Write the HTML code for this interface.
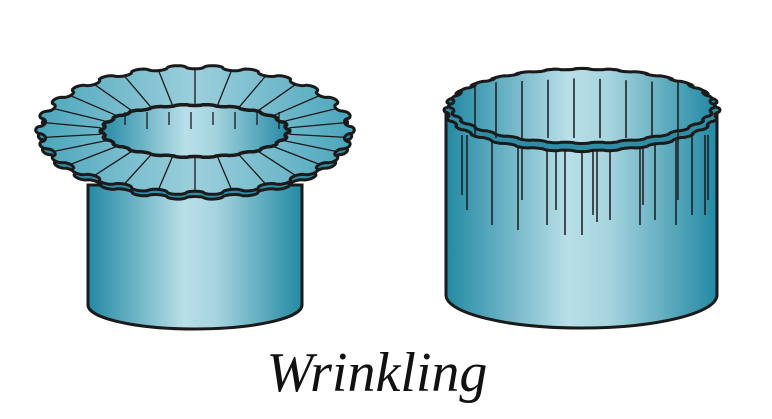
<!DOCTYPE html>
<html><head><meta charset="utf-8"><style>
html,body{margin:0;padding:0;background:#fff;width:772px;height:419px;overflow:hidden}
svg{display:block}
</style></head><body>
<svg id="s" width="772" height="419" viewBox="0 0 772 419" xmlns="http://www.w3.org/2000/svg">
<defs>
<linearGradient id="cyl" x1="0" x2="1" y1="0" y2="0">
<stop offset="0" stop-color="#2289a3"/><stop offset="0.45" stop-color="#b9dfe8"/><stop offset="0.6" stop-color="#a6d4df"/><stop offset="1" stop-color="#2289a3"/>
</linearGradient>
<linearGradient id="fl" x1="0" x2="1" y1="0" y2="0">
<stop offset="0" stop-color="#4aa5bb"/><stop offset="0.5" stop-color="#9ccfdc"/><stop offset="1" stop-color="#4aa5bb"/>
</linearGradient>
</defs>
<g id="g"></g>
<text x="377" y="391" text-anchor="middle" font-family="Liberation Serif, serif" font-style="italic" font-size="56" fill="#111">Wrinkling</text>
</svg>
<script>
var g=document.getElementById('g'),h='';
function wavy(cx,cy,rx,ry,amp,n,a0,a1){var p=[],N=500;for(var i=0;i<=N;i++){var t=a0+(a1-a0)*i/N;var c=Math.cos(t*n);var r=1+amp*(c>0?Math.sqrt(c):-Math.sqrt(-c))*0.8;p.push((cx+rx*r*Math.cos(t)).toFixed(1)+','+(cy+ry*r*Math.sin(t)).toFixed(1));}return p;}
function poly(p,f,sw){return '<polygon points="'+p.join(' ')+'" fill="'+f+'" stroke="#1a1a1a" stroke-width="'+sw+'" stroke-linejoin="round"/>';}
h+='<path d="M88,185 L88,305 A107,24 0 0 0 302,305 L302,185 Z" fill="url(#cyl)" stroke="#1a1a1a" stroke-width="3"/>';
h+=poly(wavy(195,136,153,62,0.03,26,0,2*Math.PI),'#2f8ea6',3);
h+=poly(wavy(195,130,155,63,0.035,26,0,2*Math.PI),'url(#fl)',3);
for(var i=0;i<26;i++){var t=(i+0.5)/26*2*Math.PI;h+='<line x1="'+(195+95*Math.cos(t))+'" y1="'+(131+27*Math.sin(t))+'" x2="'+(195+152*Math.cos(t))+'" y2="'+(130+61*Math.sin(t))+'" stroke="#1a1a1a" stroke-width="1.3"/>';}
h+=poly(wavy(195,131,93,26,0.025,22,0,2*Math.PI),'url(#cyl)',3.5);
for(var i=0;i<8;i++){var x=125+i*22;h+='<line x1="'+x+'" y1="112" x2="'+x+'" y2="'+(125+(i%2)*4)+'" stroke="#1a1a1a" stroke-width="1.3"/>';}
h+='<path d="M446,112 L446,295 A135.5,33 0 0 0 717,295 L717,112 Z" fill="url(#cyl)" stroke="#1a1a1a" stroke-width="3"/>';
var xs=[462,467,492,518,522,547,556,565,582,593,597,610,640,643,655,676,678,692,705,708],ls=[195,210,225,230,200,225,210,235,235,215,222,220,225,205,220,225,200,215,215,200];
for(var i=0;i<xs.length;i++){h+='<line x1="'+xs[i]+'" y1="135" x2="'+xs[i]+'" y2="'+ls[i]+'" stroke="#1a1a1a" stroke-width="1.5"/>';}
h+=poly(wavy(582,110,136,41,0.018,28,0,2*Math.PI),'#2f8ea6',3);
h+=poly(wavy(582,106,131,37,0.018,28,0,2*Math.PI),'url(#cyl)',3);
for(var i=0;i<9;i++){var x=470+i*26;if(i==0)x=475;h+='<line x1="'+x+'" y1="'+(78+Math.abs(x-582)*0.05)+'" x2="'+x+'" y2="138" stroke="#1a1a1a" stroke-width="1.5"/>';}
g.innerHTML=h;
</script>
</body></html>
